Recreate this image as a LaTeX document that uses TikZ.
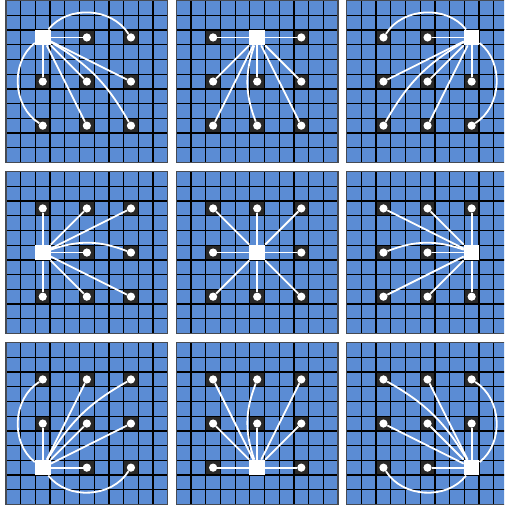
\documentclass[tikz,border=0pt]{standalone}
\definecolor{cellblue}{RGB}{91,140,212}
\definecolor{darkcell}{RGB}{42,42,42}
\definecolor{bordergray}{RGB}{70,74,82}
\tikzset{
  dot/.style={circle, fill=white, inner sep=0pt, minimum size=8.2pt},
  src/.style={rectangle, fill=white, inner sep=0pt, minimum size=15.5pt},
  link/.style={white, line width=1.8pt},
  gridline/.style={black, line width=1.25pt},
  borderline/.style={bordergray, line width=1.5pt},
}
\begin{document}
\begin{tikzpicture}[x=1pt,y=1pt]
\clip (0,0) rectangle (504,-510);
\fill[white] (0,0) rectangle (504,-510);
\pgfmathsetmacro\cw{161.7/11}
\foreach \i in {0,1,2}{
  \foreach \j in {0,1,2}{
    \pgfmathsetmacro\X{6+170.35*\i}
    \pgfmathsetmacro\Y{-0.7-171*\j}
    \begin{scope}[shift={(\X,\Y)}]
      \fill[cellblue] (0,0) rectangle (161.7,-161.7);
      \foreach \a in {0,1,2}{\foreach \b in {0,1,2}{
        \fill[darkcell] ({(2+3*\a)*\cw},{-(2+3*\b)*\cw}) rectangle ++(\cw,-\cw);
      }}
      \foreach \k in {1,...,10}{
        \draw[gridline] ({\k*\cw},0) -- ({\k*\cw},-161.7);
        \draw[gridline] (0,{-\k*\cw}) -- (161.7,{-\k*\cw});
      }
      \draw[borderline] (0,0) rectangle (161.7,-161.7);
      \foreach \a in {0,1,2}{\foreach \b in {0,1,2}{
        \node[dot] (n\i\j\a\b) at ({(2.5+3*\a)*\cw},{-(2.5+3*\b)*\cw}) {};
      }}
      \node[src] (s\i\j) at ({(2.5+3*\i)*\cw},{-(2.5+3*\j)*\cw}) {};
    \end{scope}
  }
}
% panel TL
\foreach \t in {10,01,11,21,12} \draw[link] (s00) -- (n00\t);
\draw[link] (s00) to[bend left=55] (n0020);
\draw[link] (s00) to[bend right=55] (n0002);
\draw[link] (s00) to[bend left=15] (n0022);
% panel TM
\foreach \t in {00,20,01,11,21,02,22} \draw[link] (s10) -- (n10\t);
\draw[link] (s10) to[bend right=20] (n1012);
% panel TR
\foreach \t in {10,01,11,21,12} \draw[link] (s20) -- (n20\t);
\draw[link] (s20) to[bend right=55] (n2000);
\draw[link] (s20) to[bend left=55] (n2022);
\draw[link] (s20) to[bend right=15] (n2002);
% panel CL
\foreach \t in {00,10,20,11,02,12,22} \draw[link] (s01) -- (n01\t);
\draw[link] (s01) to[bend left=20] (n0121);
% panel CM
\foreach \t in {00,10,20,01,21,02,12,22} \draw[link] (s11) -- (n11\t);
% panel CR
\foreach \t in {00,10,20,11,02,12,22} \draw[link] (s21) -- (n21\t);
\draw[link] (s21) to[bend right=20] (n2101);
% panel BL
\foreach \t in {01,10,11,21,12} \draw[link] (s02) -- (n02\t);
\draw[link] (s02) to[bend left=55] (n0200);
\draw[link] (s02) to[bend right=55] (n0222);
\draw[link] (s02) to[bend left=15] (n0220);
% panel BM
\foreach \t in {00,20,01,11,21,02,22} \draw[link] (s12) -- (n12\t);
\draw[link] (s12) to[bend left=20] (n1210);
% panel BR
\foreach \t in {10,01,11,21,12} \draw[link] (s22) -- (n22\t);
\draw[link] (s22) to[bend right=55] (n2220);
\draw[link] (s22) to[bend left=55] (n2202);
\draw[link] (s22) to[bend right=15] (n2200);
\end{tikzpicture}
\end{document}
